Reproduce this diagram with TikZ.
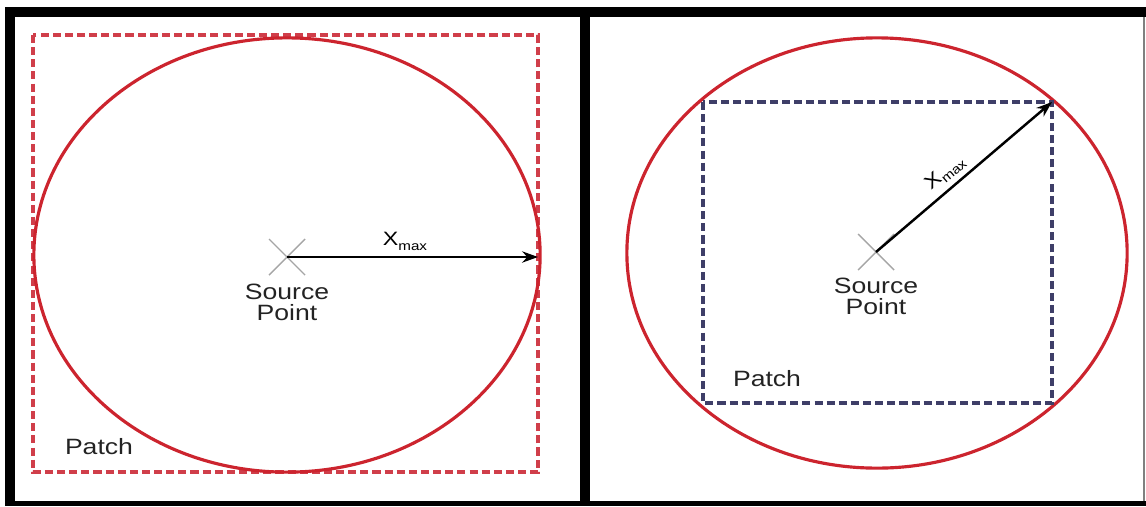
\documentclass[tikz,border=0pt]{standalone}
\usepackage{fontspec}
\setmainfont{Liberation Sans}
\newfontfamily\widesans[FakeStretch=1.2]{Liberation Sans}
\usepackage{tikz}
\usetikzlibrary{arrows.meta,positioning,calc}

\definecolor{ringred}{RGB}{204,36,46}
\definecolor{patchred}{RGB}{208,62,74}
\definecolor{patchnavy}{RGB}{62,62,104}
\definecolor{crossgray}{RGB}{165,165,165}
\definecolor{textgray}{RGB}{35,35,35}

\newcommand\xmax{X\raisebox{-0.45ex}{\fontsize{3.6}{4}\selectfont max}}

\begin{document}
\begin{tikzpicture}[
  x = 0.01cm, y = -0.01cm,
  frame/.style    = {fill=black},
  ring/.style     = {draw=ringred, line width=0.9pt},
  patchbox/.style = {dash pattern=on 2.3pt off 1.15pt, line width=1.0pt},
  cross/.style    = {draw=crossgray, line width=0.4pt},
  lbl/.style      = {font=\widesans\fontsize{6.3}{6}\selectfont, text=textgray,
                     align=center, inner sep=0pt},
  xlbl/.style     = {font=\widesans\fontsize{5.5}{6}\selectfont, inner sep=1.5pt},
  arr/.style      = {-{Stealth[length=4.5pt, width=3.2pt]}, line width=0.7pt},
]
\useasboundingbox (0,0) rectangle (1146,506);

%% ─── frame ────────────────────────────────────────────────────────────────
\fill[frame] (5,7)   rectangle (1146,17);
\fill[frame] (5,7)   rectangle (15,506);
\fill[frame] (580,7) rectangle (590,506);
\fill[frame] (5,501) rectangle (1146,506);
\draw[gray, line width=0.3pt] (1144,17) -- (1144,501);

%% ─── left panel: circle inside patch ──────────────────────────────────────
\coordinate (src1) at (287,257);
\coordinate (tip1) at (538,257);

\draw[patchbox, draw=patchred] (33,35) rectangle (538,472);
\draw[ring] (287,255) ellipse [x radius=2.53cm, y radius=2.17cm];
\draw[cross] (src1) +(-18,-18) -- +(18,18)
             (src1) +(-18,18)  -- +(18,-18);

\draw[arr] (src1) -- node[xlbl, above, pos=0.47] {\xmax} (tip1);

\node[lbl, below=0.26cm of src1] (src1lbl) {Source\\Point};
\node[lbl] (patch1) at (99,447) {Patch};

%% ─── right panel: patch inside circle ─────────────────────────────────────
\coordinate (src2) at (876,252);
\coordinate (tip2) at (1052,102);

\draw[ring] (877,253) ellipse [x radius=2.50cm, y radius=2.15cm];
\draw[patchbox, draw=patchnavy] (703,102) rectangle (1052,403);
\draw[cross] (src2) +(-18,-18) -- +(18,18)
             (src2) +(-18,18)  -- +(18,-18);

\draw[arr] (src2) -- node[xlbl, above, sloped, pos=0.45] {\xmax} (tip2);

\node[lbl, below=0.25cm of src2] (src2lbl) {Source\\Point};
\node[lbl] (patch2) at (767,379) {Patch};

\end{tikzpicture}
\end{document}
